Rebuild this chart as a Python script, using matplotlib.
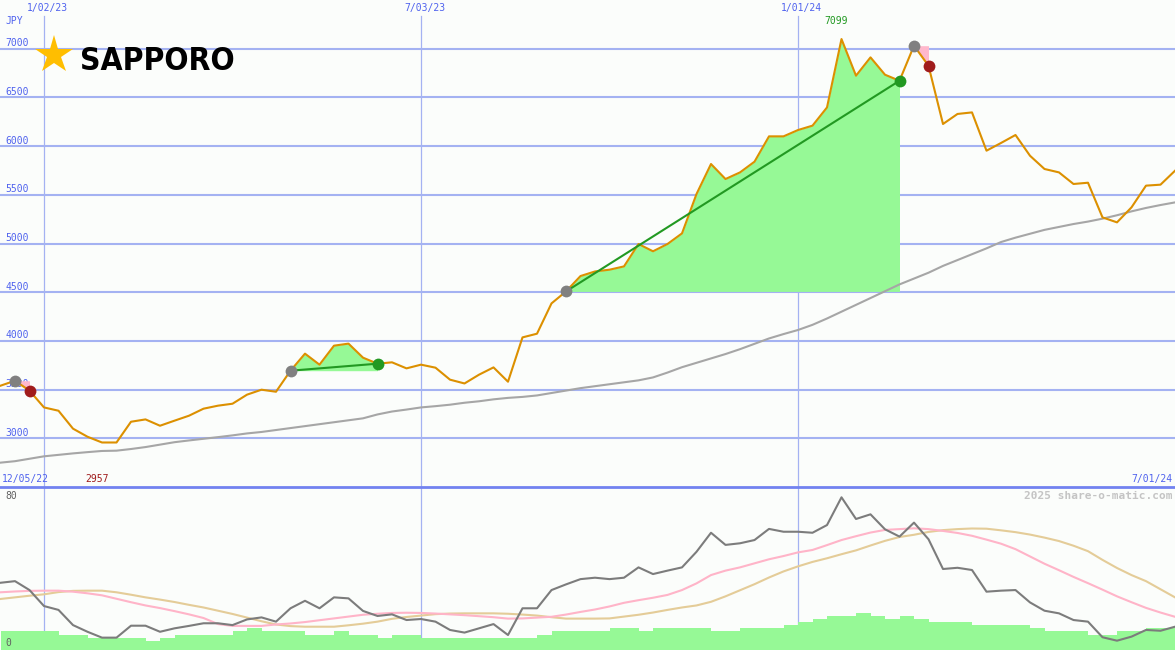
import matplotlib
matplotlib.use("Agg")
import matplotlib.pyplot as plt
import numpy as np
from matplotlib import font_manager
from matplotlib.font_manager import FontProperties
from matplotlib.lines import Line2D

# ---------------- data ----------------
weeks = np.arange(82)  # weekly points, week 0 = 12/12/22 ... week 81 = 7/01/24

price = [3540, 3591, 3489, 3317, 3283, 3099, 3016, 2957, 2957, 3170,
         3194, 3129, 3181, 3232, 3304, 3335, 3355, 3448, 3499, 3478,
         3694, 3869, 3756, 3951, 3972, 3828, 3766, 3780, 3718, 3756,
         3725, 3602, 3563, 3653, 3728, 3581, 4036, 4074, 4385, 4508,
         4666, 4713, 4731, 4765, 4995, 4920, 4995, 5104, 5508, 5816,
         5662, 5730, 5840, 6100, 6100, 6165, 6210, 6397, 7099, 6723,
         6911, 6733, 6671, 7031, 6825, 6227, 6330, 6346, 5953, 6032,
         6114, 5901, 5765, 5730, 5611, 5624, 5268, 5217, 5371, 5594,
         5604, 5747]

moving_avg = [2750, 2765, 2790, 2815, 2830, 2845, 2858, 2870, 2873, 2890,
              2910, 2935, 2960, 2978, 2995, 3012, 3030, 3050, 3065, 3085,
              3105, 3125, 3145, 3165, 3185, 3205, 3245, 3275, 3295, 3317,
              3330, 3345, 3365, 3380, 3400, 3415, 3425, 3440, 3465, 3490,
              3515, 3535, 3555, 3575, 3595, 3625, 3675, 3730, 3775, 3820,
              3865, 3915, 3970, 4025, 4070, 4112, 4165, 4230, 4300, 4370,
              4440, 4510, 4580, 4640, 4700, 4770, 4830, 4890, 4950, 5015,
              5060, 5100, 5140, 5170, 5200, 5225, 5255, 5290, 5330, 5365,
              5395, 5422]

oscillator = [33.2, 34, 29.6, 21.7, 19.8, 12.3, 9, 6.1, 6.1, 12,
              12, 9, 10.7, 11.9, 13.2, 13.2, 12.3, 15.1, 16.1, 14,
              20.6, 24.3, 20.6, 26, 25.5, 19.3, 16.8, 17.6, 14.8, 15.3,
              14, 9.9, 8.6, 10.7, 12.8, 7.4, 20.6, 20.6, 29.6, 32.4,
              35, 35.7, 35, 35.7, 40.8, 37.5, 39.2, 40.8, 48.5, 57.9,
              51.9, 52.7, 54.3, 59.8, 58.4, 58.4, 57.9, 61.7, 75.4, 64.7,
              67, 59.6, 56, 62.9, 54.7, 40, 40.6, 39.5, 28.8, 29.3,
              29.6, 23.5, 19.4, 18.1, 14.8, 14, 6.3, 4.6, 6.6, 9.9,
              9.5, 11.5]

signal_fast = [28.5, 28.9, 29.2, 29.3, 29.3, 28.8, 28.0, 27.0, 25.3, 23.6,
               22.0, 20.7, 19.2, 17.6, 15.8, 12.8, 11.9, 11.9, 11.9, 12.6,
               13.1, 13.8, 14.7, 15.6, 16.5, 17.4, 17.9, 18.3, 18.4, 18.3,
               18.0, 17.6, 17.2, 16.7, 16.2, 15.5, 15.6, 16.0, 16.4, 17.5,
               18.8, 20.0, 21.5, 23.3, 24.6, 25.8, 27.2, 29.6, 32.9, 37.0,
               39.2, 40.8, 42.8, 44.8, 46.4, 48.2, 49.4, 51.8, 54.3, 56.2,
               58.0, 59.3, 59.7, 60.1, 59.7, 58.8, 57.8, 56.4, 54.5, 52.5,
               49.8, 46.2, 42.6, 39.4, 36.1, 33.0, 29.8, 26.5, 23.6, 20.8,
               18.5, 16.4]

signal_slow = [25.2, 26.0, 26.8, 27.5, 28.6, 29.2, 29.3, 29.3, 28.5, 27.3,
               26.0, 24.9, 23.7, 22.3, 21.0, 19.4, 17.8, 16.0, 14.2, 12.6,
               11.8, 11.5, 11.5, 11.5, 12.2, 13.0, 14.0, 15.4, 16.3, 17.0,
               17.7, 18.0, 18.1, 18.1, 18.1, 17.9, 17.5, 17.0, 16.2, 15.5,
               15.5, 15.5, 15.6, 16.5, 17.4, 18.5, 19.8, 21.0, 22.0, 23.8,
               26.5, 29.5, 32.5, 35.8, 38.8, 41.3, 43.5, 45.3, 47.3, 49.2,
               51.6, 53.9, 55.8, 56.9, 58.3, 59.2, 59.7, 60.0, 59.9, 59.1,
               58.2, 57.0, 55.5, 53.8, 51.5, 48.8, 44.5, 40.5, 37.0, 34.0,
               30.0, 26.0]

volume = [9.4, 9.4, 9.4, 9.4, 7.4, 7.4, 6.1, 6.1, 6.1, 6.1,
          4.4, 6.1, 7.4, 7.4, 7.4, 7.4, 9.4, 10.9, 9.4, 9.4,
          9.4, 7.4, 7.4, 9.4, 7.4, 7.4, 6.1, 7.4, 7.4, 6.1,
          6.1, 6.1, 6.1, 6.1, 6.1, 6.1, 6.1, 7.4, 9.4, 9.4,
          9.4, 9.4, 10.9, 10.9, 9.4, 10.9, 10.9, 10.9, 10.9, 9.4,
          9.4, 10.9, 10.9, 10.9, 12.3, 14.0, 15.3, 16.8, 16.8, 18.1,
          16.8, 15.3, 16.8, 15.3, 14.0, 14.0, 14.0, 12.3, 12.3, 12.3,
          12.3, 10.9, 9.5, 9.5, 9.5, 7.4, 7.4, 9.5, 9.5, 10.9,
          10.9, 10.9]

date_labels = ["1/02/23", "7/03/23", "1/01/24"]
date_label_weeks = [3, 29, 55]
start_label = "12/05/22"
end_label = "7/01/24"
price_ticks = [3000, 3500, 4000, 4500, 5000, 5500, 6000, 6500, 7000]
entries = [1, 20, 39, 63]
exits = [2, 26, 62, 64]

# ---------------- style ----------------
W, H = 1175, 650
TOP_H = 487
BG = "#FBFDFB"
GRID = "#A4B2F2"
BLUE_TXT = "#4F62EE"
ORANGE = "#DC9000"
FILL_G = "#96F996"
PINK_FILL = "#FFB8CC"
MONO = "DejaVu Sans Mono"

# pick a narrow bold face for the logo word
names = {f.name for f in font_manager.fontManager.ttflist}
logo_props = None
if "Liberation Sans Narrow" in names:
    logo_props = FontProperties(family="Liberation Sans Narrow", weight="bold")
else:
    for fam in ["DejaVu Sans", "DejaVu Serif"]:
        fp = FontProperties(family=fam, weight="bold", stretch="condensed")
        try:
            path = font_manager.findfont(fp, fallback_to_default=False)
        except Exception:
            path = ""
        if "Condensed" in path:
            logo_props = fp
            break
if logo_props is None:
    logo_props = FontProperties(family="Liberation Serif", weight="bold")

fig = plt.figure(figsize=(W / 100, H / 100), dpi=100)
fig.patch.set_facecolor(BG)

ax = fig.add_axes([0, (H - TOP_H) / H, 1, TOP_H / H])
ax2 = fig.add_axes([0, 0, 1, (H - TOP_H) / H])
xlim = (-0.5 / 14.5, 81.0)
for a in (ax, ax2):
    a.set_facecolor(BG)
    a.set_xlim(*xlim)
    a.axis("off")
ax.set_ylim(2500, 7500)
ax2.set_ylim(0, (H - TOP_H) / 2.025)

x = weeks
price_a = np.array(price, dtype=float)

# grid
for v in price_ticks:
    ax.axhline(v, color=GRID, lw=1.5, zorder=1)
    ax.annotate(str(v), xy=(0, v), xycoords=("axes fraction", "data"),
                xytext=(5, 2.5), textcoords="offset pixels", ha="left", va="baseline",
                fontsize=7, family=MONO, color=BLUE_TXT, zorder=2)
for w in date_label_weeks:
    ax.axvline(w, ymin=0, ymax=1 - 16 / TOP_H, color=GRID, lw=0.9, zorder=1)
    ax2.axvline(w, color=GRID, lw=0.9, zorder=1)
for w, lab in zip(date_label_weeks, date_labels):
    ax.annotate(lab, xy=(w, 1), xycoords=("data", "axes fraction"),
                xytext=(3.5, -8), textcoords="offset pixels", ha="center", va="center",
                fontsize=7, family=MONO, color=BLUE_TXT)

ax.annotate("JPY", xy=(0, 1), xycoords="axes fraction", xytext=(5, -21),
            textcoords="offset pixels", ha="left", va="center",
            fontsize=7, family=MONO, color=BLUE_TXT)
ax.annotate(start_label, xy=(0, 0), xycoords="axes fraction", xytext=(2, 8),
            textcoords="offset pixels", ha="left", va="center",
            fontsize=7, family=MONO, color=BLUE_TXT)
ax.annotate(end_label, xy=(1, 0), xycoords="axes fraction", xytext=(-3, 8),
            textcoords="offset pixels", ha="right", va="center",
            fontsize=7, family=MONO, color=BLUE_TXT)

# moving average
ax.plot(x, moving_avg, color="#A6A6A6", lw=1.5, zorder=3)

# trades: fills, lines, markers
for e, s in zip(entries, exits):
    seg = np.arange(e, s + 1)
    base = price_a[e]
    gain = price_a[s] >= base
    if gain:
        ax.fill_between(seg, base, price_a[seg], where=price_a[seg] >= base,
                        color=FILL_G, lw=0, zorder=2, interpolate=True)
        ax.plot([e, s], [price_a[e], price_a[s]], color="#229922", lw=1.5, zorder=5)
    else:
        ax.fill_between(seg, base, price_a[seg], color=PINK_FILL, lw=0, zorder=2)

ax.plot(x, price_a, color=ORANGE, lw=1.5, zorder=4)

for e, s in zip(entries, exits):
    ax.plot([e], [price_a[e]], "o", ms=8.5, color="#808080", mew=0, zorder=6)
    col = "#229922" if price_a[s] >= price_a[e] else "#A01C1C"
    ax.plot([s], [price_a[s]], "o", ms=8.5, color=col, mew=0, zorder=6)

# min / max labels
imin = int(np.argmin(price_a))
imax = int(np.argmax(price_a))
ax.annotate(f"{int(price_a[imin])}", xy=(imin, 0), xycoords=("data", "axes fraction"),
            xytext=(-5, 8), textcoords="offset pixels", ha="center", va="center",
            fontsize=7, family=MONO, color="#A01C1C")
ax.annotate(f"{int(price_a[imax])}", xy=(imax, 1), xycoords=("data", "axes fraction"),
            xytext=(-5, -21), textcoords="offset pixels", ha="center", va="center",
            fontsize=7, family=MONO, color="#229922")

# lower panel
ax2.fill_between(x, 0, volume, step="post", color=FILL_G, lw=0, zorder=2)
ax2.plot(x, signal_slow, color="#E4CC98", lw=1.5, zorder=3)
ax2.plot(x, signal_fast, color="#FFB4C8", lw=1.5, zorder=4)
ax2.plot(x, oscillator, color="#7C7C7C", lw=1.5, zorder=5)
ax2.annotate("80", xy=(0, 1), xycoords="axes fraction", xytext=(5, -9),
             textcoords="offset pixels", ha="left", va="center",
             fontsize=7, family=MONO, color="#606060")
ax2.annotate("0", xy=(0, 0), xycoords="axes fraction", xytext=(5, 7.5),
             textcoords="offset pixels", ha="left", va="center",
             fontsize=7, family=MONO, color="#606060", zorder=6)
ax2.annotate("2025 share-o-matic.com", xy=(1, 1), xycoords="axes fraction",
             xytext=(-3, -9), textcoords="offset pixels", ha="right", va="center",
             fontsize=8, family=MONO, weight="bold", color="#C4C4C4")

# separator
fig.add_artist(Line2D([0, 1], [1 - 487 / H, 1 - 487 / H], transform=fig.transFigure,
                      color="#7282F0", lw=2.0))

# logo
fig.add_artist(Line2D([53.5 / W], [1 - 55 / H], transform=fig.transFigure,
                      marker="*", markersize=28.5, color="#FFBE00", mew=0, ls="none"))
t = fig.text(80 / W, 1 - 70 / H, "SAPPORO", ha="left", va="baseline",
             fontproperties=logo_props, color="#000000")
t.set_fontsize(28.5)
fig.canvas.draw()
bb = t.get_window_extent()
if bb.width > 158:
    t.set_fontsize(28.5 * 155 / bb.width)

fig.savefig("out.png", dpi=100, facecolor=BG)
